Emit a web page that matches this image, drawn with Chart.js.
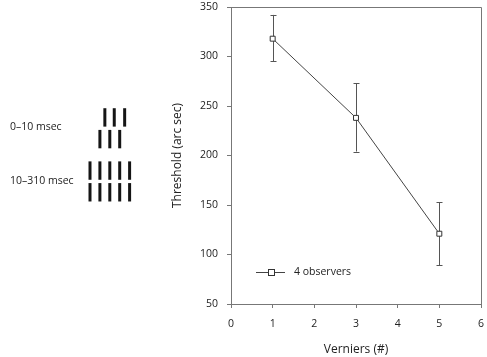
<!DOCTYPE html>
<html>
<head>
<meta charset="utf-8">
<script src="https://cdn.jsdelivr.net/npm/chart.js@4/dist/chart.umd.min.js"></script>
<style>
  html, body { margin: 0; padding: 0; background: #fff; }
  #wrap { position: relative; width: 487px; height: 357px; overflow: hidden; }
  #stimulo { position: absolute; left: 0; top: 0; }
  #grafico { position: absolute; left: 160px; top: 0; }
</style>
</head>
<body>
<div id="wrap">
  <canvas id="stimulo" width="160" height="357"></canvas>
  <canvas id="grafico" width="327" height="357"></canvas>
</div>
<script>
// --- dados do gráfico ---
const verniers = [1, 3, 5];
const limiares = [318, 238, 121];
const erroSuperior = [342, 273, 153];
const erroInferior = [295, 204, 89];
const xTicks = [0, 1, 2, 3, 4, 5, 6];
const yTicks = [50, 100, 150, 200, 250, 300, 350];
const nomeSerie = '4 observers';

// --- desenho do estímulo (colunas e linhas em unidades de espaçamento) ---
const curtoColunas1 = [1.5, 2.45, 3.5];
const curtoColunas2 = [1, 2, 3];
const longoColunas = [0, 1, 2, 3, 4];
const linhasEstimulo = [0, 1, 2.45, 3.45];
const rotulosEstimulo = [
  { texto: '0\u201310 msec', linha: 0.45 },
  { texto: '10\u2013310 msec', linha: 2.95 }
];

const fonte = "'Open Sans', sans-serif";
const corTexto = '#222';
const corEixo = '#777';

Chart.defaults.font.family = fonte;
Chart.defaults.color = corTexto;

// Estímulo: cada barra é um ponto com estilo 'line' girado 90 graus
const pontosEstimulo = [];
curtoColunas1.forEach(c => pontosEstimulo.push({ x: c, y: linhasEstimulo[0] }));
curtoColunas2.forEach(c => pontosEstimulo.push({ x: c, y: linhasEstimulo[1] }));
longoColunas.forEach(c => pontosEstimulo.push({ x: c, y: linhasEstimulo[2] }));
longoColunas.forEach(c => pontosEstimulo.push({ x: c, y: linhasEstimulo[3] }));

const rotulosPlugin = {
  id: 'rotulosEstimulo',
  afterDraw(chart) {
    const ctx = chart.ctx;
    const ys = chart.scales.y;
    ctx.save();
    ctx.font = '10.5px ' + fonte;
    ctx.fillStyle = corTexto;
    ctx.textBaseline = 'middle';
    ctx.textAlign = 'left';
    rotulosEstimulo.forEach(r => ctx.fillText(r.texto, 10, ys.getPixelForValue(r.linha)));
    ctx.restore();
  }
};

new Chart(document.getElementById('stimulo'), {
  type: 'scatter',
  data: {
    datasets: [{
      data: pontosEstimulo,
      pointStyle: 'line',
      rotation: 90,
      pointRadius: 9.2,
      pointBorderWidth: 3,
      borderColor: '#151515',
      backgroundColor: '#151515'
    }]
  },
  options: {
    responsive: false,
    devicePixelRatio: 1,
    animation: false,
    events: [],
    layout: { padding: 0, autoPadding: false },
    plugins: { legend: { display: false }, tooltip: { enabled: false } },
    scales: {
      x: { display: false, min: -9.09, max: 7.07 },
      y: { display: false, min: -5.41, max: 11.04, reverse: true }
    }
  },
  plugins: [rotulosPlugin]
});

// Barras de erro desenhadas com as escalas do gráfico
const barrasErroPlugin = {
  id: 'barrasErro',
  beforeDatasetsDraw(chart) {
    const ctx = chart.ctx;
    const xs = chart.scales.x, ys = chart.scales.y;
    ctx.save();
    ctx.strokeStyle = '#555';
    ctx.lineWidth = 1;
    verniers.forEach((v, i) => {
      const px = Math.round(xs.getPixelForValue(v)) + 0.5;
      const top = ys.getPixelForValue(erroSuperior[i]);
      const bot = ys.getPixelForValue(erroInferior[i]);
      ctx.beginPath();
      ctx.moveTo(px, top); ctx.lineTo(px, bot);
      ctx.moveTo(px - 3, Math.round(top) + 0.5); ctx.lineTo(px + 3, Math.round(top) + 0.5);
      ctx.moveTo(px - 3, Math.round(bot) + 0.5); ctx.lineTo(px + 3, Math.round(bot) + 0.5);
      ctx.stroke();
    });
    ctx.restore();
  }
};

// Moldura (topo e direita) e legenda dentro da área do gráfico
const molduraLegendaPlugin = {
  id: 'molduraLegenda',
  afterDraw(chart) {
    const ctx = chart.ctx;
    const a = chart.chartArea;
    ctx.save();
    ctx.strokeStyle = corEixo;
    ctx.lineWidth = 1;
    ctx.beginPath();
    ctx.moveTo(a.left, Math.round(a.top) + 0.5);
    ctx.lineTo(Math.round(a.right) + 0.5, Math.round(a.top) + 0.5);
    ctx.lineTo(Math.round(a.right) + 0.5, a.bottom);
    ctx.stroke();

    // legenda
    const ds = chart.data.datasets[0];
    const ly = Math.round(a.top + 265) + 0.5;
    const lx0 = a.left + 25, lx1 = a.left + 54;
    ctx.strokeStyle = ds.borderColor;
    ctx.beginPath();
    ctx.moveTo(lx0, ly); ctx.lineTo(lx1, ly);
    ctx.stroke();
    const cx = Math.round((lx0 + lx1) / 2) + 0.5;
    ctx.fillStyle = '#fff';
    ctx.fillRect(cx - 3, ly - 3, 6, 6);
    ctx.strokeStyle = ds.pointBorderColor;
    ctx.strokeRect(cx - 3, ly - 3, 6, 6);
    ctx.fillStyle = corTexto;
    ctx.font = '10.5px ' + fonte;
    ctx.textBaseline = 'middle';
    ctx.fillText(ds.label, a.left + 63, ly);
    ctx.restore();
  }
};

new Chart(document.getElementById('grafico'), {
  type: 'line',
  data: {
    datasets: [{
      label: nomeSerie,
      data: verniers.map((v, i) => ({ x: v, y: limiares[i] })),
      borderColor: '#444',
      borderWidth: 1,
      pointStyle: 'rect',
      pointRadius: 3.5,
      pointBackgroundColor: '#fff',
      pointBorderColor: '#333',
      pointBorderWidth: 1,
      tension: 0
    }]
  },
  options: {
    responsive: false,
    devicePixelRatio: 1,
    animation: false,
    events: [],
    layout: { padding: 0, autoPadding: false },
    plugins: { legend: { display: false }, tooltip: { enabled: false } },
    scales: {
      x: {
        type: 'linear',
        min: xTicks[0],
        max: xTicks[xTicks.length - 1],
        afterBuildTicks: s => { s.ticks = xTicks.map(v => ({ value: v })); },
        afterFit: s => { s.height = 53; s.paddingLeft = 0; s.paddingRight = 6; },
        grid: { display: true, drawOnChartArea: false, drawTicks: true, tickLength: 4, color: corEixo },
        border: { display: true, color: corEixo, width: 1 },
        ticks: { padding: 10, font: { size: 10.5 }, color: corTexto },
        title: { display: true, text: 'Verniers (#)', font: { size: 12 }, color: corTexto, padding: { top: -2, bottom: 0 } }
      },
      y: {
        min: yTicks[0],
        max: yTicks[yTicks.length - 1],
        afterBuildTicks: s => { s.ticks = yTicks.map(v => ({ value: v })); },
        afterFit: s => { s.width = 71; s.paddingTop = 7; s.paddingBottom = 0; },
        grid: { display: true, drawOnChartArea: false, drawTicks: true, tickLength: 4, color: corEixo },
        border: { display: true, color: corEixo, width: 1 },
        ticks: { padding: 9, font: { size: 10.5 }, color: corTexto },
        title: { display: true, text: 'Threshold (arc sec)', font: { size: 12 }, color: corTexto, padding: { top: 10, bottom: 0 } }
      }
    }
  },
  plugins: [barrasErroPlugin, molduraLegendaPlugin]
});
</script>
</body>
</html>
